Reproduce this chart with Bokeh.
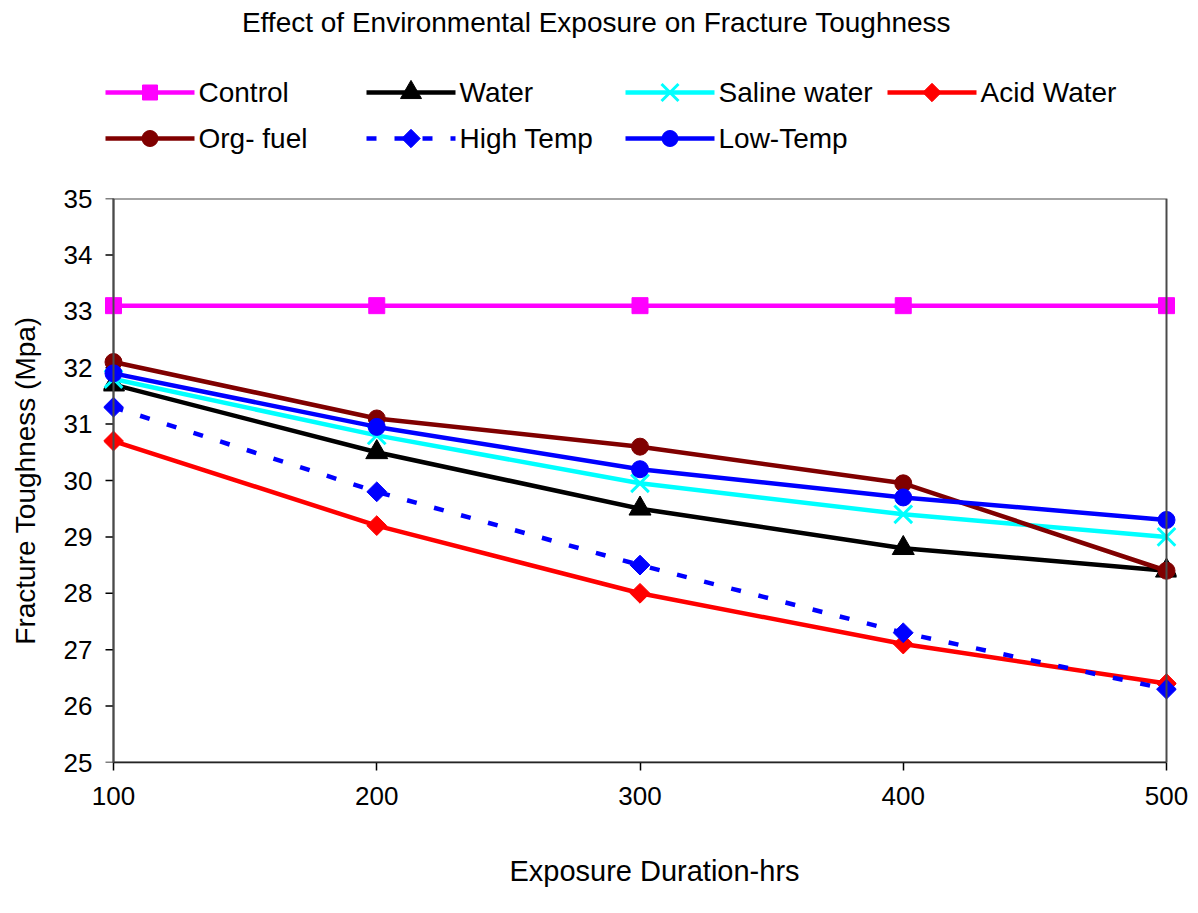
import math
from bokeh.plotting import figure
from bokeh.layouts import column
from bokeh.models import Range1d, FixedTicker, BoxAnnotation
from bokeh.core.properties import value
from bokeh.embed import file_html
from bokeh.resources import INLINE

# ---------------- data ----------------
title_text = "Effect of Environmental Exposure on Fracture Toughness"
x_label = "Exposure Duration-hrs"
y_label = "Fracture Toughness (Mpa)"

hours = [100, 200, 300, 400, 500]
control = [33.1, 33.1, 33.1, 33.1, 33.1]
water = [31.7, 30.5, 29.5, 28.8, 28.4]
saline_water = [31.8, 30.8, 29.95, 29.4, 29.0]
acid_water = [30.7, 29.2, 28.0, 27.1, 26.4]
org_fuel = [32.1, 31.1, 30.6, 29.95, 28.4]
high_temp = [31.3, 29.8, 28.5, 27.3, 26.3]
low_temp = [31.9, 30.95, 30.2, 29.7, 29.3]

series_names = ["Control", "Water", "Saline water", "Acid Water",
                "Org- fuel", "High Temp", "Low-Temp"]
series_values = [control, water, saline_water, acid_water,
                 org_fuel, high_temp, low_temp]

x_ticks = [100, 200, 300, 400, 500]
y_ticks = [25, 26, 27, 28, 29, 30, 31, 32, 33, 34, 35]

# ---------------- styles ----------------
colors = ["#ff00ff", "#000000", "#00ffff", "#ff0000", "#800000", "#0000ff", "#0000ff"]
markers = ["square", "triangle", "x", "square", "circle", "square", "circle"]
angles = [0, 0, 0, math.pi / 4, 0, math.pi / 4, 0]
msizes = [16, 22, 25, 14, 17, 14, 17]
dashes = ["solid", "solid", "solid", "solid", "solid", "10 18", "solid"]
FONT = "Liberation Sans"
LW = 4.5

W, H = 1198, 913
HEAD_H = 175
FOOT_H = 90
MAIN_H = H - HEAD_H - FOOT_H
FRAME_L, FRAME_R = 103, 1176   # page pixels of the (padded) plot frame


def draw_marker(fig, xs, ys, i, shrink=0):
    if markers[i] == "x":
        fig.scatter(x=xs, y=ys, marker="x", size=msizes[i] - shrink,
                    line_color=colors[i], line_width=3)
    else:
        fig.scatter(x=xs, y=ys, marker=markers[i], size=msizes[i] - shrink, angle=angles[i],
                    fill_color=colors[i], line_color=colors[i])


def blank_fig(height, top_px):
    # frame aligned (by the column layout) with the main frame; data units = page pixels
    f = figure(width=W, height=height, x_range=Range1d(FRAME_L, FRAME_R),
               y_range=Range1d(top_px + height, top_px),
               x_axis_type=None, y_axis_type=None, output_backend="svg",
               toolbar_location=None, min_border_left=FRAME_L, min_border_right=W - FRAME_R,
               min_border_top=0, min_border_bottom=0, title=None)
    f.grid.visible = False
    f.outline_line_color = None
    return f


# ---------------- header: title + legend ----------------
head = blank_fig(HEAD_H, 0)
head.text(x=[596], y=[22], text=[title_text], text_align="center", text_baseline="middle",
          text_font=value(FONT), text_font_size="28px", text_color="black")

col_x = [105, 366, 625, 887]
row_y = [92, 138]
for i, name in enumerate(series_names):
    cx = col_x[i % 4]
    cy = row_y[i // 4]
    head.line(x=[cx, cx + 89], y=[cy, cy], line_color=colors[i], line_width=LW,
              line_dash=dashes[i])
    draw_marker(head, [cx + 44.5], [cy], i, shrink=1)
    head.text(x=[cx + 93], y=[cy], text=[name], text_align="left", text_baseline="middle",
              text_font=value(FONT), text_font_size="28px", text_color="black")

# ---------------- footer: x axis title ----------------
foot = blank_fig(FOOT_H, H - FOOT_H)
foot.text(x=[654], y=[870], text=[x_label], text_align="center", text_baseline="middle",
          text_font=value(FONT), text_font_size="29px", text_color="black")

# ---------------- main chart ----------------
px_per_unit = (1166 - 113) / (hours[-1] - hours[0])
pad = 10 / px_per_unit
p = figure(width=W, height=MAIN_H,
           x_range=Range1d(hours[0] - pad, hours[-1] + pad),
           y_range=Range1d(y_ticks[0], y_ticks[-1]),
           output_backend="svg", toolbar_location=None, title=None,
           min_border_left=FRAME_L, min_border_right=W - FRAME_R,
           min_border_top=198 - HEAD_H, min_border_bottom=(H - FOOT_H) - 762)
p.grid.visible = False
p.outline_line_color = None

p.add_layout(BoxAnnotation(left=hours[0], right=hours[-1], bottom=y_ticks[0], top=y_ticks[-1],
                           fill_alpha=0, line_color="#4a4a4a", line_alpha=1, line_width=2))

# y axis line and outward ticks at x = 100
tick_len = 8 / px_per_unit
p.segment(x0=[hours[0]] * len(y_ticks), y0=y_ticks,
          x1=[hours[0] - tick_len] * len(y_ticks), y1=y_ticks,
          line_color="black", line_width=1.5)
p.segment(x0=[hours[0]], y0=[y_ticks[0]], x1=[hours[0]], y1=[y_ticks[-1]],
          line_color="black", line_width=1.5)

for i, vals in enumerate(series_values):
    p.line(x=hours, y=vals, line_color=colors[i], line_width=LW, line_dash=dashes[i])
    draw_marker(p, hours, vals, i)

p.xaxis.ticker = FixedTicker(ticks=x_ticks)
p.yaxis.ticker = FixedTicker(ticks=y_ticks)
p.xaxis.bounds = (hours[0], hours[-1])
p.yaxis.axis_label = y_label
for ax in p.axis:
    ax.axis_line_color = "black"
    ax.axis_line_width = 1.5
    ax.major_tick_line_color = "black"
    ax.major_tick_line_width = 1.5
    ax.major_tick_in = 0
    ax.major_tick_out = 8
    ax.minor_tick_line_color = None
    ax.major_label_text_font = FONT
    ax.major_label_text_font_size = "26px"
    ax.major_label_text_color = "black"
    ax.axis_label_text_font = FONT
    ax.axis_label_text_font_size = "28px"
    ax.axis_label_text_font_style = "normal"
    ax.axis_label_text_color = "black"
p.yaxis.axis_line_color = None
p.yaxis.major_tick_line_color = None
p.yaxis.major_tick_out = 0
p.yaxis.major_label_standoff = 11
p.yaxis.axis_label_standoff = 20
p.xaxis.major_label_standoff = 16

layout = column(head, p, foot, spacing=0)
open("out.html", "w").write(file_html(layout, INLINE))
